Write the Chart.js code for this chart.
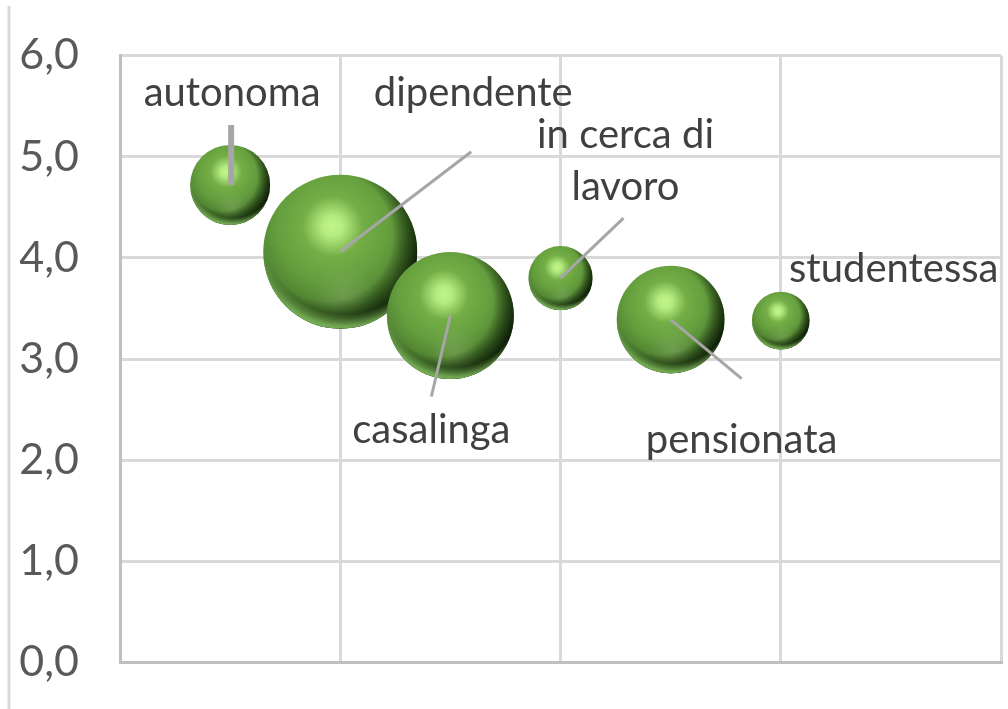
<!DOCTYPE html>
<html>
<head>
  <title>Bubble chart</title>
  <script src="https://cdn.jsdelivr.net/npm/chart.js"></script>
  <style>
    html, body { margin: 0; padding: 0; background: #fff; }
    #wrap { width: 1008px; height: 709px; }
  </style>
</head>
<body>
  <div id="wrap"><canvas id="bubbles"></canvas></div>
  <script>
    const categories = ['autonoma', 'dipendente', 'casalinga', 'in cerca di|lavoro', 'pensionata', 'studentessa'];
    const xValues = [1, 2, 3, 4, 5, 6];
    const yValues = [4.72, 4.06, 3.43, 3.8, 3.39, 3.38];
    const sizeValues = [9.8, 36.3, 24.7, 6.3, 17.8, 5.1];
    const yTickLabels = ['0,0', '1,0', '2,0', '3,0', '4,0', '5,0', '6,0'];

    // label placement, px from the bubble centre
    const labelOffsets = [[2, -79], [133, -146], [-19, 128], [65, -130], [71, 133], [113, -39]];
    const leaderEnds = [[1, -60], [131, -100], [-19, 81], [63, -60], [71, 59], null];
    const leaderWidths = [6, 3, 3, 3, 3, 3];
    const radiusScale = 12.78;

    function radial(c, x, y, r, fx, fy, fr, stops) {
      const g = c.createRadialGradient(x + fx * r, y + fy * r, 0, x + fx * r, y + fy * r, fr * r);
      stops.forEach(s => g.addColorStop(s[0], s[1]));
      return g;
    }

    function sphereFill(context) {
      if (!context.raw) return '#6aa53f';
      const chart = context.chart;
      const x = chart.scales.x.getPixelForValue(context.raw.x);
      const y = chart.scales.y.getPixelForValue(context.raw.y);
      // scales have no pixels yet on the first pass
      if (!Number.isFinite(x) || !Number.isFinite(y)) return '#6aa53f';
      return radial(chart.ctx, x, y, context.raw.r, -0.1, -0.33, 1.3, [
        [0, '#c2f48a'], [0.1, '#b4ec80'], [0.3, '#74ae46'], [0.55, '#659f3e'], [1, '#3f6c27']
      ]);
    }

    const sphereShade = {
      id: 'sphereShade',
      afterDatasetDraw(chart, args) {
        const c = chart.ctx;
        args.meta.data.forEach(el => {
          const r = el.options.radius, x = el.x, y = el.y;
          c.save();
          c.beginPath();
          c.arc(x, y, r, 0, Math.PI * 2);
          c.clip();
          // soft reflection low in the ball
          c.fillStyle = radial(c, x, y, r, 0.05, 0.55, 0.4, [[0, 'rgba(140,175,110,0.4)'], [1, 'rgba(140,175,110,0)']]);
          c.fillRect(x - r, y - r, r * 2, r * 2);
          // dark crescent on the lower right
          c.fillStyle = radial(c, x, y, r, -0.16, -0.2, 1.2, [[0, 'rgba(20,40,10,0)'], [0.7, 'rgba(20,40,10,0)'], [0.88, 'rgba(20,40,10,0.65)'], [1, 'rgba(15,30,8,0.98)']]);
          c.fillRect(x - r, y - r, r * 2, r * 2);
          // light rim along the bottom, stronger towards the left
          c.fillStyle = radial(c, x, y, r, 0.06, -0.24, 1.24, [[0, 'rgba(125,185,90,0)'], [0.85, 'rgba(125,185,90,0)'], [0.97, 'rgba(125,185,90,0.85)'], [1, 'rgba(130,190,95,0.9)']]);
          c.fillRect(x - r, y - r, r * 2, r * 2);
          c.restore();
        });
      }
    };

    const labelsAndFrame = {
      id: 'labelsAndFrame',
      beforeDraw(chart) {
        // light frame line at the left of the picture
        const c = chart.ctx;
        c.save();
        c.strokeStyle = '#d9d9d9';
        c.lineWidth = 3;
        c.beginPath();
        c.moveTo(9, 6);
        c.lineTo(9, 709);
        c.stroke();
        c.restore();
      },
      afterDatasetsDraw(chart) {
        const c = chart.ctx;
        c.save();
        categories.forEach((name, i) => {
          const el = chart.getDatasetMeta(i).data[0];
          const end = leaderEnds[i];
          if (end) {
            c.strokeStyle = '#a6a6a6';
            c.lineWidth = leaderWidths[i];
            c.beginPath();
            c.moveTo(el.x + (i === 0 ? 1 : 0), el.y);
            c.lineTo(el.x + end[0], el.y + end[1]);
            c.stroke();
          }
          c.fillStyle = '#404040';
          c.font = '40px Lato';
          c.textAlign = 'center';
          c.textBaseline = 'alphabetic';
          name.split('|').forEach((line, n) => {
            c.fillText(line, el.x + labelOffsets[i][0], el.y + labelOffsets[i][1] + n * 52);
          });
        });
        c.restore();
      }
    };

    new Chart(document.getElementById('bubbles'), {
      type: 'bubble',
      data: {
        datasets: categories.map((name, i) => ({
          label: name,
          order: -i,
          data: [{ x: xValues[i], y: yValues[i], r: radiusScale * Math.sqrt(sizeValues[i]) }],
          backgroundColor: sphereFill,
          borderWidth: 0
        }))
      },
      options: {
        responsive: true,
        maintainAspectRatio: false,
        animation: false,
        layout: { autoPadding: false, padding: { top: 55.5, right: 7, bottom: 46.5, left: 0 } },
        plugins: { legend: { display: false }, tooltip: { enabled: false } },
        scales: {
          x: {
            min: 0,
            max: 8,
            afterFit: box => { box.height = 0; },
            ticks: { display: false, stepSize: 2 },
            grid: { color: '#d9d9d9', lineWidth: 3, drawTicks: false },
            border: { color: '#bfbfbf', width: 3 }
          },
          y: {
            min: 0,
            max: 6,
            afterFit: box => { box.width = 120; box.paddingTop = 0; box.paddingBottom = 0; },
            ticks: {
              stepSize: 1,
              padding: 41,
              color: '#595959',
              font: { family: 'Lato', size: 43 },
              callback: value => yTickLabels[value]
            },
            grid: { color: '#d9d9d9', lineWidth: 3, drawTicks: false },
            border: { color: '#bfbfbf', width: 3 }
          }
        }
      },
      plugins: [sphereShade, labelsAndFrame]
    });
  </script>
</body>
</html>
